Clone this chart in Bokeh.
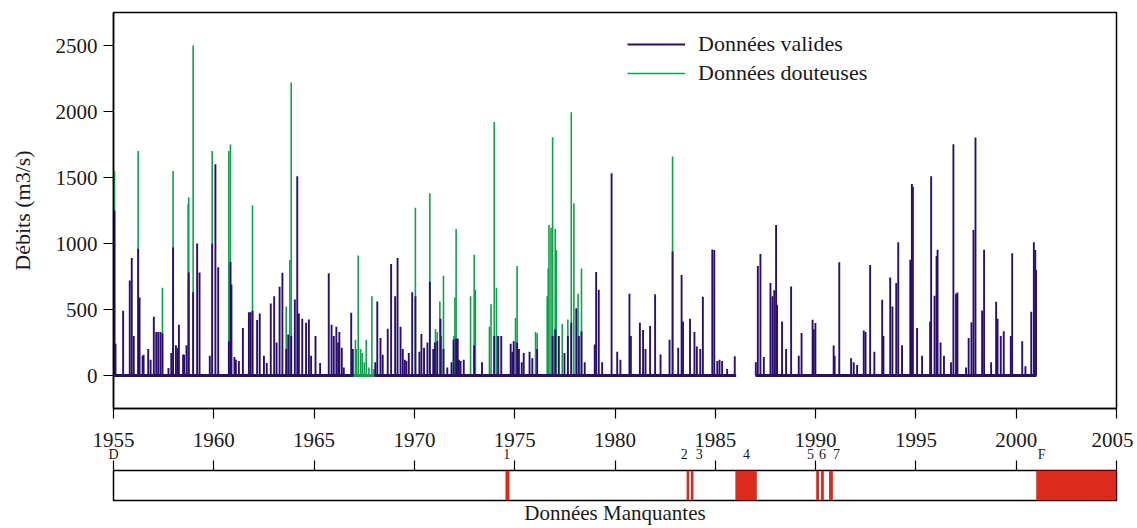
from bokeh.plotting import figure
from bokeh.models import Range1d, LinearAxis, FixedTicker, Legend, LegendItem, ColumnDataSource
from bokeh.layouts import column
from bokeh.embed import file_html
from bokeh.resources import INLINE

# ---------------- data ----------------
year_ticks = [1955, 1960, 1965, 1970, 1975, 1980, 1985, 1990, 1995, 2000, 2005]
q_ticks = [0, 500, 1000, 1500, 2000, 2500]

valid_t = [1955.05, 1955.10, 1955.48, 1955.81, 1955.91, 1956.01, 1956.23, 1956.30, 1956.45, 1956.50, 1956.73,
           1956.85, 1957.01, 1957.13, 1957.23, 1957.34, 1957.44, 1957.74, 1957.88, 1957.97, 1958.11, 1958.19, 1958.26,
           1958.47, 1958.52, 1958.64, 1958.75, 1958.97, 1959.17, 1959.29, 1959.80, 1959.92, 1960.08, 1960.22,
           1960.75, 1960.83, 1960.88, 1961.03, 1961.10, 1961.25, 1961.45, 1961.75, 1961.83, 1961.93, 1962.16, 1962.29,
           1962.50, 1962.64, 1962.84, 1963.01, 1963.13, 1963.28, 1963.42, 1963.61, 1963.71, 1963.86, 1964.04,
           1964.16, 1964.24, 1964.41, 1964.60, 1964.74, 1964.85, 1965.07, 1965.30, 1965.73, 1965.87, 1965.98, 1966.11,
           1966.20, 1966.26, 1966.38, 1966.48, 1966.85, 1966.93, 1968.05, 1968.15, 1968.31, 1968.42, 1968.67, 1968.84,
           1969.04, 1969.16, 1969.31, 1969.42, 1969.52, 1969.60, 1969.72, 1969.89, 1970.05, 1970.25, 1970.35,
           1970.48, 1970.65, 1970.77, 1970.94, 1971.02, 1971.14, 1971.30, 1971.45, 1971.64, 1971.85, 1971.95,
           1972.08, 1972.16, 1972.22, 1972.30, 1972.46, 1972.98, 1973.37, 1973.98, 1974.18, 1974.33,
           1974.80, 1974.88, 1974.95, 1975.12, 1975.21, 1975.35, 1975.45, 1975.74, 1975.88, 1976.12, 1976.89,
           1977.02, 1977.20,
           1977.48, 1977.65, 1977.82, 1978.07, 1978.20, 1978.33, 1978.49, 1978.99, 1979.06, 1979.19,
           1979.36, 1979.83, 1980.11, 1980.27, 1980.72, 1980.79, 1981.24, 1981.40, 1981.52, 1981.75,
           1982.00, 1982.27, 1982.72, 1982.87, 1983.15, 1983.32, 1983.39, 1983.74, 1983.96, 1984.08,
           1984.25, 1984.38, 1984.85, 1984.95, 1985.10, 1985.21, 1985.34, 1985.59, 1985.97,
           1987.02, 1987.12, 1987.25, 1987.42, 1987.75, 1987.85, 1987.94, 1988.03, 1988.08, 1988.33,
           1988.53, 1988.78, 1989.16, 1989.30, 1989.85, 1989.91, 1989.99, 1990.90, 1990.95, 1991.18,
           1991.77, 1991.90, 1992.07, 1992.40, 1992.49, 1992.72, 1992.93, 1993.32, 1993.38, 1993.72,
           1993.83, 1994.02, 1994.12, 1994.31, 1994.72, 1994.80, 1994.85, 1995.06, 1995.31, 1995.71,
           1995.76, 1995.93, 1996.03, 1996.08, 1996.23, 1996.40, 1996.75, 1996.87, 1997.00, 1997.07,
           1997.50, 1997.63, 1997.77, 1997.87, 1997.97, 1998.30, 1998.40, 1998.75, 1999.00, 1999.07,
           1999.23, 1999.38, 1999.73, 1999.80, 2000.30, 2000.46, 2000.75, 2000.88, 2000.95, 2000.99]
valid_q = [1250, 240, 490, 720, 890, 300, 960, 590, 150, 158, 200,
           120, 445, 330, 330, 330, 320, 57, 170, 970, 230, 210, 385,
           160, 158, 230, 780, 630, 1000, 780, 150, 1000, 1600, 820,
           260, 860, 690, 140, 120, 110, 360, 480, 480, 490, 420, 470,
           150, 95, 545, 600, 250, 672, 778, 200, 310, 300, 575,
           1510, 470, 430, 400, 425, 150, 300, 95, 775, 385, 300, 370,
           250, 330, 210, 60, 475, 200, 100, 560, 285, 158, 355, 845,
           600, 890, 370, 200, 120, 110, 170, 630, 600, 180, 315,
           210, 250, 710, 200, 250, 260, 430, 200, 60, 100, 270,
           280, 280, 120, 110, 120, 230, 100, 300, 300, 300,
           240, 180, 260, 250, 200, 100, 170, 180, 130, 200, 300,
           350, 300,
           170, 300, 400, 510, 300, 335, 100, 234, 785, 650,
           100, 1533, 180, 120, 620, 300, 400, 345, 200, 375,
           615, 160, 270, 940, 210, 762, 410, 430, 330, 220,
           200, 597, 955, 950, 110, 120, 110, 50, 145,
           100, 830, 920, 140, 700, 600, 645, 1140, 536, 410,
           200, 675, 150, 322, 423, 350, 398, 227, 150, 858,
           130, 100, 80, 340, 330, 838, 180, 574, 300, 742,
           523, 700, 1010, 230, 876, 1450, 1430, 360, 150, 410,
           1510, 604, 906, 952, 250, 150, 100, 1752, 619, 629,
           60, 285, 403, 1103, 1803, 493, 952, 100, 559, 430,
           300, 335, 300, 926, 260, 70, 483, 1010, 950, 800]

doubt_t = [1955.05, 1956.23, 1957.44, 1957.97, 1958.72, 1958.75, 1958.97, 1959.92, 1960.75, 1960.83,
           1961.93, 1963.61, 1963.79, 1963.86, 1967.06, 1967.10, 1967.20, 1967.32, 1967.40, 1967.50,
           1967.60, 1967.73, 1967.88, 1967.98, 1970.05, 1970.77, 1971.05, 1971.14, 1971.27, 1971.34,
           1971.45, 1971.97, 1972.02, 1972.08, 1972.80, 1972.98, 1973.04, 1973.74, 1973.82, 1973.98,
           1974.09, 1974.18, 1975.04, 1975.12, 1976.04, 1976.12, 1976.62, 1976.67, 1976.71, 1976.81,
           1976.89, 1977.02, 1977.08, 1977.37, 1977.65, 1977.82, 1977.95, 1978.16, 1978.33, 1982.87]
doubt_q = [1550, 1700, 665, 1550, 1300, 1350, 2500, 1700, 1700, 1750,
           1290, 520, 875, 2220, 270, 200, 910, 200, 170, 100,
           270, 60, 600, 50, 1270, 1380, 350, 330, 560, 300,
           755, 300, 590, 1110, 600, 915, 650, 370, 540, 1920,
           665, 300, 435, 830, 330, 320, 600, 810, 1140, 1120,
           1805, 1110, 950, 390, 425, 1995, 1305, 620, 810, 1660]

# low-flow baseline periods (valid / doubtful)
base_valid_start = [1955.0, 1968.0, 1987.0]
base_valid_end = [1966.98, 1986.04, 2001.01]
base_doubt_start = [1966.98]
base_doubt_end = [1968.0]

# missing data periods
gap_start = [1974.54, 1983.57, 1983.78, 1986.0, 1990.03, 1990.27, 1990.67, 2001.0]
gap_end = [1974.74, 1983.70, 1983.91, 1987.07, 1990.17, 1990.41, 1990.86, 2005.0]
gap_label_pos = [1955.0, 1974.6, 1983.45, 1984.2, 1986.55, 1989.74, 1990.34, 1991.04, 2001.27]
gap_label_txt = ["D", "1", "2", "3", "4", "5", "6", "7", "F"]

PURPLE = "#2b0f6e"
GREEN = "#11a04c"
RED = "#dc2a1c"
FONT = "'Liberation Serif', 'DejaVu Serif', serif"
TXT = "#1a1a1a"

xr = Range1d(1955, 2005)

# ---------------- main figure ----------------
p = figure(width=1133, height=465, x_range=xr, y_range=Range1d(-250, 2750),
           output_backend="svg", toolbar_location=None,
           x_axis_location=None, y_axis_location=None,
           min_border_left=113, min_border_right=17, min_border_top=12, min_border_bottom=57)
p.xgrid.visible = False
p.ygrid.visible = False
p.outline_line_color = "black"
p.outline_line_width = 1.5
p.background_fill_color = "white"

vsrc = ColumnDataSource(dict(t=valid_t, q=valid_q))
dsrc = ColumnDataSource(dict(t=doubt_t, q=doubt_q))

r_d = p.segment(x0="t", y0=0, x1="t", y1="q", source=dsrc, line_color=GREEN, line_width=1.6)
p.segment(x0=base_doubt_start, y0=[0], x1=base_doubt_end, y1=[0], line_color=GREEN, line_width=3)
r_v = p.segment(x0="t", y0=0, x1="t", y1="q", source=vsrc, line_color=PURPLE, line_width=1.9)
p.segment(x0=base_valid_start, y0=[0] * 3, x1=base_valid_end, y1=[0] * 3, line_color=PURPLE, line_width=3)

yaxis = LinearAxis(ticker=FixedTicker(ticks=q_ticks), axis_label="Débits (m3/s)")
yaxis.major_tick_out = 10
yaxis.major_tick_in = 0
yaxis.minor_tick_line_color = None
yaxis.major_label_standoff = 6
yaxis.axis_label_standoff = 18
yaxis.axis_line_width = 1.5
yaxis.major_tick_line_width = 1.2
yaxis.major_label_text_font = FONT
yaxis.major_label_text_font_size = "21px"
yaxis.major_label_text_color = TXT
yaxis.axis_label_text_font = FONT
yaxis.axis_label_text_font_size = "22px"
yaxis.axis_label_text_font_style = "normal"
yaxis.axis_label_text_color = TXT
p.add_layout(yaxis, "left")

xaxis = LinearAxis(ticker=FixedTicker(ticks=year_ticks))
xaxis.major_tick_out = 10
xaxis.major_tick_in = 0
xaxis.minor_tick_line_color = None
xaxis.major_label_standoff = 14
xaxis.axis_line_width = 1.5
xaxis.major_tick_line_width = 1.2
xaxis.major_label_text_font = FONT
xaxis.major_label_text_font_size = "21px"
xaxis.major_label_text_color = TXT
p.add_layout(xaxis, "below")

laxis = LinearAxis(ticker=FixedTicker(ticks=gap_label_pos),
                   major_label_overrides={k: v for k, v in zip(gap_label_pos, gap_label_txt)})
laxis.major_tick_out = 0
laxis.major_tick_in = 0
laxis.minor_tick_line_color = None
laxis.axis_line_color = None
laxis.major_label_standoff = -3
laxis.major_label_text_font = FONT
laxis.major_label_text_font_size = "14px"
laxis.major_label_text_color = TXT
p.add_layout(laxis, "below")

legend = Legend(items=[LegendItem(label="Données valides", renderers=[r_v]),
                       LegendItem(label="Données douteuses", renderers=[r_d])],
                location=(514, 322))
legend.glyph_width = 58
legend.label_standoff = 13
legend.padding = 0
legend.margin = 0
legend.spacing = 3
legend.border_line_color = None
legend.background_fill_alpha = 0
legend.label_text_font = FONT
legend.label_text_font_size = "22px"
legend.label_text_color = TXT
p.add_layout(legend, "center")

# ---------------- missing-data strip ----------------
b = figure(width=1133, height=68, x_range=xr, y_range=Range1d(0, 1),
           output_backend="svg", toolbar_location=None,
           x_axis_location=None, y_axis_location=None,
           min_border_left=113, min_border_right=17, min_border_top=10, min_border_bottom=28)
b.margin = (-5, 0, 0, 0)
b.border_fill_alpha = 0
b.xgrid.visible = False
b.ygrid.visible = False
b.outline_line_color = "black"
b.outline_line_width = 1.5

gsrc = ColumnDataSource(dict(l=gap_start, r=gap_end))
b.quad(left="l", right="r", bottom=0, top=1, source=gsrc, fill_color=RED, line_color=None)

taxis = LinearAxis(ticker=FixedTicker(ticks=[], minor_ticks=year_ticks))
taxis.major_tick_out = 0
taxis.major_tick_in = 0
taxis.minor_tick_out = 10
taxis.minor_tick_in = 0
taxis.minor_tick_line_width = 1.2
taxis.minor_tick_line_color = "black"
taxis.axis_line_color = None
taxis.major_label_standoff = 0
b.add_layout(taxis, "above")

baxis = LinearAxis(ticker=FixedTicker(ticks=[]), axis_label="Données Manquantes")
baxis.major_tick_out = 0
baxis.major_tick_in = 0
baxis.minor_tick_line_color = None
baxis.axis_line_color = None
baxis.major_label_standoff = 0
baxis.axis_label_standoff = 0
baxis.axis_label_text_font = FONT
baxis.axis_label_text_font_size = "21px"
baxis.axis_label_text_font_style = "normal"
baxis.axis_label_text_color = TXT
b.add_layout(baxis, "below")

layout = column(p, b, spacing=0)
open("out.html", "w").write(file_html(layout, INLINE))
